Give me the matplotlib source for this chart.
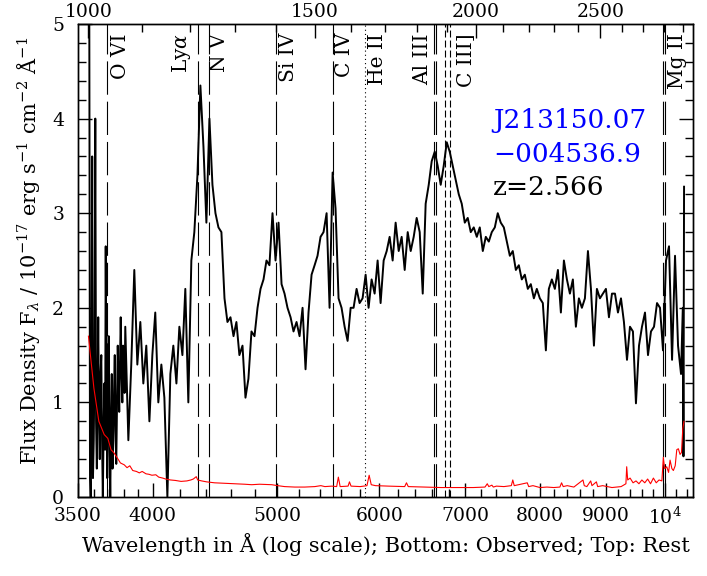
import matplotlib
matplotlib.use('Agg')
import matplotlib.pyplot as plt
from matplotlib.ticker import FixedLocator, FixedFormatter, NullFormatter, MultipleLocator

plt.rcParams['font.family'] = ['DejaVu Serif']
plt.rcParams['mathtext.fontset'] = 'dejavuserif'
plt.rcParams['lines.scale_dashes'] = False

# ---------------- data ----------------
z = 2.566
obj_name = 'J213150.07'
obj_dec = '\u2212004536.9'

wave = [
    3571, 3576, 3581, 3586, 3590, 3595, 3600, 3605, 3610, 3615,
    3620, 3625, 3629, 3634, 3639, 3644, 3649, 3654, 3659, 3664,
    3669, 3674, 3678, 3683, 3688, 3693, 3698, 3703, 3708, 3713,
    3718, 3723, 3728, 3733, 3738, 3743, 3748, 3753, 3758, 3763,
    3768, 3773, 3778, 3784, 3789, 3794, 3799, 3804, 3809,
    3830, 3850, 3871, 3892, 3913, 3934, 3955,
    3977, 3998, 4019, 4041, 4063, 4085, 4107, 4129, 4151, 4174,
    4196, 4219, 4241, 4264, 4287, 4310, 4334, 4357, 4381, 4404,
    4428, 4452, 4476, 4500, 4524, 4549, 4573, 4598, 4623, 4647,
    4672, 4698, 4723, 4748, 4774, 4800, 4826, 4852, 4878, 4904,
    4930, 4957, 4984, 5011, 5038, 5065, 5092, 5120, 5147, 5175,
    5203, 5231, 5259, 5287, 5316, 5345, 5373, 5402, 5431, 5461,
    5490, 5520, 5549, 5579, 5609, 5640, 5670, 5701, 5731, 5762,
    5793, 5824, 5856, 5887, 5919, 5951, 5983, 6015, 6048, 6081,
    6113, 6146, 6179, 6213, 6246, 6280, 6314, 6348, 6382, 6416,
    6451, 6486, 6520, 6556, 6591, 6627, 6662, 6698, 6734, 6771,
    6807, 6844, 6881, 6918, 6955, 6993, 7030, 7068, 7106, 7145,
    7183, 7222, 7261, 7300, 7339, 7379, 7418, 7458, 7499, 7539,
    7580, 7620, 7662, 7703, 7744, 7786, 7828, 7870, 7913, 7955,
    7998, 8041, 8085, 8128, 8172, 8216, 8261, 8305, 8350, 8395,
    8440, 8485, 8531, 8577, 8623, 8670, 8717, 8764, 8811, 8858,
    8906, 8954, 9002, 9051, 9100, 9149, 9198, 9248, 9297, 9348,
    9398, 9448, 9499, 9551, 9602, 9654, 9706, 9758, 9811, 9864,
    9917, 9970, 10024, 10078, 10133, 10187, 10242, 10297, 10330, 10342, 10353,
]
flux = [
    5.6, 0.2, -0.1, 1.2, 3.6, 0.2, 0.6, 1.4, 4.0, 0.8,
    0.3, 1.1, 1.9, 0.9, 0.4, 1.3, 1.5, 0.6, 0.0, 0.7,
    1.2, 0.5, 2.65, 1.0, 0.2, 0.9, 1.7, 0.6, 0.0, 0.8,
    1.3, 0.3, 0.6, 1.1, 1.5, 0.7, 0.35, 1.0, 1.6, 1.2,
    0.9, 1.4, 1.9, 1.3, 1.0, 1.6, 1.5, 1.1, 1.8,
    0.6, 1.4, 2.4, 1.4, 1.85, 1.2, 1.6,
    0.8, 1.5, 1.95, 1.0, 1.4, 1.05, 0.0, 1.3, 1.6, 1.2,
    1.8, 1.5, 2.2, 1.0, 2.5, 2.8, 3.4, 4.35, 3.7, 2.9,
    4.0, 3.3, 3.0, 2.85, 2.8, 2.1, 1.85, 1.9, 1.7, 1.85,
    1.5, 1.6, 1.05, 1.25, 1.75, 1.7, 2.0, 2.2, 2.3, 2.5,
    2.45, 3.0, 2.5, 2.9, 2.25, 2.15, 2.0, 1.9, 1.75, 1.85,
    1.7, 2.0, 1.35, 1.95, 2.35, 2.45, 2.55, 2.75, 2.8, 3.0,
    2.0, 3.43, 3.05, 2.1, 2.0, 1.8, 1.65, 2.0, 2.0, 2.2,
    2.05, 2.1, 2.35, 2.0, 2.3, 2.15, 2.5, 2.05, 2.5, 2.6,
    2.75, 2.5, 2.9, 2.6, 2.75, 2.4, 2.8, 2.6, 2.75, 2.95,
    2.8, 2.15, 3.1, 3.3, 3.55, 3.65, 3.5, 3.3, 3.5, 3.75,
    3.65, 3.5, 3.35, 3.2, 3.1, 2.9, 2.95, 2.8, 2.85, 2.75,
    2.85, 2.6, 2.75, 2.7, 2.8, 2.85, 3.0, 2.9, 2.85, 2.7,
    2.55, 2.6, 2.4, 2.45, 2.3, 2.35, 2.2, 2.25, 2.1, 2.2,
    2.1, 2.05, 1.55, 2.2, 2.3, 2.2, 2.4, 1.95, 2.5, 2.3,
    2.15, 2.3, 1.8, 2.1, 2.0, 2.1, 2.6, 2.2, 1.6, 2.2,
    2.1, 2.15, 2.2, 1.9, 2.15, 2.15, 1.95, 2.1, 1.85, 1.45,
    1.8, 1.75, 0.99, 1.6, 1.8, 1.95, 1.5, 1.75, 1.8, 2.05,
    2.0, 1.55, 2.5, 2.65, 1.45, 2.55, 1.6, 1.3, 2.0, 0.43, 3.28,
]

err_wave = [
    3566, 3601, 3633, 3668, 3692, 3713, 3731, 3756, 3776, 3802,
    3821, 3840, 3860, 3886, 3906, 3926, 3953, 3974, 3995, 4023,
    4044, 4073, 4094, 4130, 4166, 4209, 4253, 4283, 4302, 4325,
    4336, 4367, 4406, 4469, 4550, 4632, 4716, 4776, 4844, 4950,
    5003, 5066, 5158, 5251, 5347, 5405, 5444, 5513, 5560, 5577,
    5595, 5675, 5689, 5705, 5800, 5870, 5893, 5915, 5960, 6100,
    6280, 6300, 6320, 6500, 6700, 6900, 7100, 7250, 7280, 7300,
    7340, 7360, 7400, 7500, 7600, 7620, 7640, 7700, 7820, 7840,
    7900, 8000, 8100, 8200, 8290, 8315, 8340, 8400, 8500, 8640,
    8660, 8700, 8760, 8780, 8850, 8870, 8950, 9100, 9250, 9330,
    9343, 9360, 9400, 9450, 9500, 9550, 9600, 9650, 9700, 9750,
    9800, 9850, 9900, 9950, 9976, 10000, 10037, 10070, 10097, 10130,
    10157, 10190, 10219, 10248, 10279, 10305, 10329, 10352,
]
err_flux = [
    1.7, 1.15, 0.8, 0.66, 0.62, 0.50, 0.47, 0.41, 0.36, 0.34,
    0.31, 0.33, 0.28, 0.27, 0.255, 0.27, 0.245, 0.24, 0.23, 0.235,
    0.21, 0.2, 0.19, 0.18, 0.175, 0.165, 0.17, 0.18, 0.19, 0.215,
    0.18, 0.17, 0.16, 0.15, 0.145, 0.14, 0.135, 0.13, 0.135, 0.13,
    0.12, 0.11, 0.105, 0.105, 0.11, 0.12, 0.11, 0.115, 0.11, 0.21,
    0.11, 0.115, 0.16, 0.115, 0.11, 0.12, 0.23, 0.13, 0.12, 0.115,
    0.11, 0.15, 0.11, 0.105, 0.10, 0.10, 0.10, 0.105, 0.14, 0.11,
    0.125, 0.105, 0.115, 0.11, 0.12, 0.18, 0.12, 0.13, 0.15, 0.11,
    0.12, 0.10, 0.105, 0.10, 0.105, 0.15, 0.11, 0.12, 0.105, 0.18,
    0.12, 0.11, 0.17, 0.12, 0.16, 0.11, 0.12, 0.10, 0.11, 0.14,
    0.32, 0.18, 0.2, 0.15, 0.17, 0.14, 0.18, 0.15, 0.19, 0.14,
    0.2, 0.15, 0.18, 0.17, 0.42, 0.3, 0.32, 0.26, 0.39, 0.3,
    0.28, 0.33, 0.5, 0.51, 0.45, 0.47, 0.72, 0.8,
]
assert len(wave) == len(flux) and len(err_wave) == len(err_flux)

# emission-line markers (rest wavelengths, Angstrom)
marker_rest = [1033.82, 1215.67, 1240.81, 1399.8, 1549.48, 1640.42,
               1854.72, 1862.79, 1892.03, 1908.73, 2796.35, 2803.53]
marker_kind = ['long', 'long', 'long', 'long', 'long', 'dot',
               'long', 'long', 'short', 'short', 'long', 'long']
label_text = ['O VI', 'Ly$\\alpha$', 'N V', 'Si IV', 'C IV', 'He II',
              'Al III', 'C III]', 'Mg II']
label_rest = [1033.82, 1215.67, 1240.81, 1399.8, 1549.48, 1640.42,
              1854.72, 1908.73, 2800.0]
label_dx_pt = [9.9, -11.7, 7.7, 8.9, 8.4, 8.9, -7.9, 12.0, 9.6]

bottom_major = [3500, 4000, 5000, 6000, 7000, 8000, 9000, 10000]
bottom_labels = ['3500', '4000', '5000', '6000', '7000', '8000', '9000', '10$^4$']
bottom_minor = [3600, 3700, 3800, 3900] + list(range(4200, 10600, 200))
top_major = [1000, 1500, 2000, 2500]
top_labels = ['1000', '1500', '2000', '2500']
top_minor = list(range(1000, 3000, 100))

xmin, xmax = 3500, 10520

# ---------------- figure ----------------
fig = plt.figure(figsize=(7.07, 5.76), dpi=100)
ax = fig.add_axes([78 / 707, 1 - 497 / 576, 615 / 707, 473 / 576])

dash_styles = {'long': (0, (24, 5)), 'short': (0, (5, 2.2)), 'dot': (0, (0.8, 2.2))}
for rest, kind in zip(marker_rest, marker_kind):
    ax.axvline(rest * (1 + z), color='black', lw=0.8, linestyle=dash_styles[kind], zorder=1)

ax.plot(wave, flux, color='black', lw=1.4, zorder=3)
ax.plot(err_wave, err_flux, color='red', lw=0.8, zorder=4)

for txt, rest, dx in zip(label_text, label_rest, label_dx_pt):
    ax.annotate(txt, xy=(rest * (1 + z), 1.0), xycoords=('data', 'axes fraction'),
                xytext=(dx, -6.5), textcoords='offset points', rotation=90,
                ha='center', va='top', fontsize=14.5, zorder=5)

ax.set_xscale('log')
ax.set_xlim(xmin, xmax)
ax.set_ylim(0, 5)
ax.xaxis.set_major_locator(FixedLocator(bottom_major))
ax.xaxis.set_major_formatter(FixedFormatter(bottom_labels))
ax.xaxis.set_minor_locator(FixedLocator(bottom_minor))
ax.xaxis.set_minor_formatter(NullFormatter())
ax.set_yticks([0, 1, 2, 3, 4, 5])
ax.yaxis.set_minor_locator(MultipleLocator(0.2))

ax.tick_params(which='both', direction='in', top=False, right=True, labelsize=13.5, width=1.0)
ax.tick_params(which='major', length=10)
ax.tick_params(which='minor', length=6)
ax.tick_params(axis='x', pad=7.2)
ax.tick_params(axis='y', pad=10)
for s in ax.spines.values():
    s.set_linewidth(1.0)

ax2 = ax.twiny()
ax2.set_xscale('log')
ax2.set_xlim(xmin / (1 + z), xmax / (1 + z))
ax2.xaxis.set_major_locator(FixedLocator(top_major))
ax2.xaxis.set_major_formatter(FixedFormatter(top_labels))
ax2.xaxis.set_minor_locator(FixedLocator(top_minor))
ax2.xaxis.set_minor_formatter(NullFormatter())
ax2.tick_params(which='both', direction='in', top=True, bottom=False, labelsize=13.5, width=1.0, pad=2.5)
ax2.tick_params(which='major', length=10)
ax2.tick_params(which='minor', length=6)
for s in ax2.spines.values():
    s.set_linewidth(1.0)

ax.set_xlabel('Wavelength in \u00c5 (log scale); Bottom: Observed; Top: Rest', fontsize=15)
ax.xaxis.set_label_coords(0.5, -0.076)
ax.set_ylabel('Flux Density F$_\\lambda$ / 10$^{-17}$ erg s$^{-1}$ cm$^{-2}$ \u00c5$^{-1}$', fontsize=15)
ax.yaxis.set_label_coords(-0.058, 0.52)

ax.text(0.675, 0.780, obj_name, transform=ax.transAxes, color='blue', fontsize=19, va='baseline', ha='left')
ax.text(0.675, 0.708, obj_dec, transform=ax.transAxes, color='blue', fontsize=19, va='baseline', ha='left')
ax.text(0.675, 0.638, 'z=%.3f' % z, transform=ax.transAxes, color='black', fontsize=19, va='baseline', ha='left')

fig.savefig('out.png', dpi=100)
